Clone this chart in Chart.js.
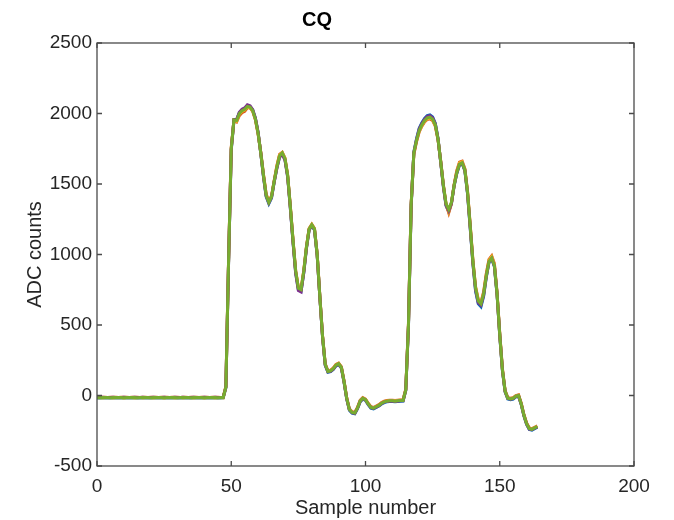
<!DOCTYPE html>
<html>
<head>
<meta charset="utf-8">
<script src="https://cdn.jsdelivr.net/npm/chart.js@4.4.1/dist/chart.umd.min.js"></script>
<style>
  html, body { margin: 0; padding: 0; background: #fff; }
  canvas { display: block; }
</style>
</head>
<body>
<canvas id="myChart" width="674" height="520"></canvas>
<script>
// valeurs (un point par echantillon, 0..164)
let seriesBlue = [
  -17,-18,-16,-17,-18,-17,-16,-17,-18,-17,-16,-17,-18,-17,-16,
  -17,-18,-16,-17,-18,-17,-16,-17,-18,-17,-16,-17,-18,-17,-16,
  -17,-18,-16,-17,-18,-17,-16,-17,-18,-17,-16,-17,-18,-17,-16,
  -17,-18,-16,
  55,940,1740,1950,1955,2005,2025,2035,2055,2050,2025,1965,
  1865,1715,1550,1410,1360,1400,1515,1615,1695,1715,1675,1555,1330,1090,870,
  750,740,870,1045,1175,1205,1175,995,695,415,215,165,170,185,210,
  220,195,95,-25,-105,-125,-130,-95,-45,-25,-35,-65,-90,-95,-85,
  -75,-60,-50,-45,-42,-42,-44,-42,-40,-39,35,490,1340,1725,1820,
  1895,1935,1965,1985,1990,1975,1930,1825,1655,1480,1345,1305,1360,1485,1575,
  1635,1645,1595,1430,1185,935,740,650,630,705,840,945,970,915,715,
  425,175,25,-25,-30,-25,-10,-5,-65,-145,-205,-240,-245,-235,-225
];
let seriesOrange = [
  -13,-14,-12,-13,-14,-13,-12,-13,-14,-13,-12,-13,-14,-13,-12,
  -13,-14,-12,-13,-14,-13,-12,-13,-14,-13,-12,-13,-14,-13,-12,
  -13,-14,-12,-13,-14,-13,-12,-13,-14,-13,-12,-13,-14,-13,-12,
  -13,-14,-12,
  65,960,1760,1950,1940,1985,2005,2015,2040,2040,2015,1955,
  1855,1725,1570,1430,1375,1415,1525,1630,1710,1725,1685,1565,1345,1105,885,
  765,755,885,1055,1185,1215,1185,1005,705,425,225,175,180,195,220,
  230,205,105,-15,-95,-115,-120,-85,-35,-15,-25,-55,-80,-85,-75,
  -65,-50,-40,-35,-33,-33,-35,-33,-31,-30,45,510,1355,1710,1800,
  1870,1910,1940,1958,1962,1950,1910,1815,1665,1495,1355,1295,1360,1495,1595,
  1655,1662,1610,1450,1210,960,770,680,660,735,865,965,990,935,730,
  440,190,35,-15,-20,-15,0,5,-55,-135,-195,-230,-235,-225,-215
];
let seriesYellow = [
  -16,-15,-17,-16,-15,-16,-17,-16,-15,-16,-17,-16,-15,-16,-17,
  -16,-15,-17,-16,-15,-16,-17,-16,-15,-16,-17,-16,-15,-16,-17,
  -16,-15,-17,-16,-15,-16,-17,-16,-15,-16,-17,-16,-15,-16,-17,
  -16,-15,-17,
  62,955,1755,1952,1945,1995,2015,2025,2045,2042,2018,1958,
  1858,1722,1565,1425,1372,1412,1522,1625,1705,1722,1682,1562,1342,1102,882,
  762,752,882,1052,1182,1212,1182,1002,702,422,222,172,177,192,217,
  227,202,102,-18,-98,-118,-123,-88,-38,-18,-28,-58,-83,-88,-78,
  -68,-53,-43,-38,-36,-36,-38,-36,-34,-33,42,505,1352,1715,1805,
  1875,1915,1945,1962,1968,1955,1915,1818,1662,1492,1358,1302,1365,1492,1590,
  1650,1658,1605,1445,1205,955,765,675,655,728,860,960,985,930,725,
  435,185,32,-18,-22,-18,-2,2,-58,-138,-198,-232,-238,-228,-218
];
let seriesPurple = [
  -14,-15,-13,-14,-15,-14,-13,-14,-15,-14,-13,-14,-15,-14,-13,
  -14,-15,-13,-14,-15,-14,-13,-14,-15,-14,-13,-14,-15,-14,-13,
  -14,-15,-13,-14,-15,-14,-13,-14,-15,-14,-13,-14,-15,-14,-13,
  -14,-15,-13,
  58,945,1745,1958,1958,2008,2030,2040,2062,2055,2028,1968,
  1868,1718,1555,1415,1365,1405,1515,1612,1690,1708,1670,1550,1330,1088,865,
  745,735,868,1042,1176,1206,1176,996,696,416,216,168,172,186,212,
  222,198,98,-22,-102,-122,-127,-92,-42,-22,-32,-62,-87,-92,-82,
  -72,-57,-47,-42,-40,-40,-42,-40,-38,-37,38,495,1345,1722,1815,
  1890,1930,1960,1980,1985,1970,1928,1822,1658,1485,1350,1310,1362,1488,1578,
  1638,1648,1598,1435,1190,940,748,658,640,712,845,948,972,918,718,
  428,178,28,-22,-27,-22,-7,-2,-62,-142,-202,-238,-242,-232,-222
];
let seriesGreen = [
  -15,-16,-15,-14,-15,-16,-15,-15,-14,-15,-16,-15,-15,-14,-15,
  -16,-15,-15,-14,-15,-16,-15,-15,-14,-15,-16,-15,-15,-14,-15,
  -16,-15,-15,-14,-15,-16,-15,-15,-14,-15,-16,-15,-15,-14,-15,
  -16,-15,-14,
  60,950,1750,1955,1950,2000,2020,2030,2050,2045,2020,1960,
  1860,1720,1560,1420,1370,1410,1520,1620,1700,1720,1680,1560,1340,1100,880,
  760,750,880,1050,1180,1210,1180,1000,700,420,220,170,175,190,215,
  225,200,100,-20,-100,-120,-125,-90,-40,-20,-30,-60,-85,-90,-80,
  -70,-55,-45,-40,-38,-38,-40,-38,-36,-35,40,500,1350,1720,1810,
  1880,1920,1950,1970,1975,1960,1920,1820,1660,1490,1360,1320,1370,1490,1580,
  1640,1650,1600,1440,1200,950,760,670,650,720,850,950,975,920,720,
  430,180,30,-20,-25,-20,-5,0,-60,-140,-200,-235,-240,-230,-220
];
// ordre de trace matlab : bleu d'abord, vert au dessus
let allSeries = [seriesBlue, seriesOrange, seriesYellow, seriesPurple, seriesGreen];
let seriesColors = ["#0072BD", "#D95319", "#EDB120", "#7E2F8E", "#77AC30"];
let xTicks = [0, 50, 100, 150, 200];
let yTicks = [-500, 0, 500, 1000, 1500, 2000, 2500];

let fontFamily = "'Liberation Sans', Arial, Helvetica, sans-serif";
let axisColor = "#262626";

// cadre + petites graduations vers l'interieur (style matlab)
const boxPlugin = {
  id: "boxPlugin",
  afterDraw(chart) {
    const ctx = chart.ctx;
    const a = chart.chartArea;
    const sx = chart.scales.x;
    const sy = chart.scales.y;
    const tick = 5;
    ctx.save();
    ctx.strokeStyle = "#4a4a4a";
    ctx.lineWidth = 1.3;
    ctx.strokeRect(a.left, a.top, a.right - a.left, a.bottom - a.top);
    ctx.beginPath();
    xTicks.forEach(v => {
      const px = sx.getPixelForValue(v);
      ctx.moveTo(px, a.bottom); ctx.lineTo(px, a.bottom - tick);
      ctx.moveTo(px, a.top); ctx.lineTo(px, a.top + tick);
    });
    yTicks.forEach(v => {
      const py = sy.getPixelForValue(v);
      ctx.moveTo(a.left, py); ctx.lineTo(a.left + tick, py);
      ctx.moveTo(a.right, py); ctx.lineTo(a.right - tick, py);
    });
    ctx.stroke();
    ctx.restore();
  }
};

const ctx = document.getElementById("myChart");
let varChart = new Chart(ctx, {
  type: "line",
  data: {
    datasets: allSeries.map((arr, k) => ({
      data: arr.map((v, i) => ({ x: i, y: v })),
      borderColor: seriesColors[k],
      backgroundColor: seriesColors[k],
      borderWidth: 3,
      pointRadius: 0,
      tension: 0,
      fill: false,
      order: allSeries.length - k
    }))
  },
  options: {
    responsive: false,
    animation: false,
    layout: { padding: { left: 0, right: 40, top: 0, bottom: 0 } },
    plugins: {
      legend: { display: false },
      tooltip: { enabled: false },
      title: {
        display: true,
        text: "CQ",
        color: "#000",
        font: { family: fontFamily, size: 20, weight: "bold" },
        padding: { top: 8, bottom: 11 }
      }
    },
    scales: {
      x: {
        type: "linear",
        min: 0,
        max: 200,
        afterBuildTicks: s => { s.ticks = xTicks.map(v => ({ value: v })); },
        afterFit: s => { s.height = 54; },
        grid: { display: false, drawTicks: false },
        border: { display: false },
        ticks: {
          color: axisColor,
          font: { family: fontFamily, size: 19 },
          padding: 9,
          maxRotation: 0,
          callback: v => String(v)
        },
        title: {
          display: true,
          text: "Sample number",
          color: axisColor,
          font: { family: fontFamily, size: 20 },
          padding: { top: 0, bottom: 0 }
        }
      },
      y: {
        type: "linear",
        min: -500,
        max: 2500,
        afterBuildTicks: s => { s.ticks = yTicks.map(v => ({ value: v })); },
        afterFit: s => { s.width = 97; },
        grid: { display: false, drawTicks: false },
        border: { display: false },
        ticks: {
          color: axisColor,
          font: { family: fontFamily, size: 19 },
          padding: 5,
          callback: v => String(v)
        },
        title: {
          display: true,
          text: "ADC counts",
          color: axisColor,
          font: { family: fontFamily, size: 20 },
          padding: { top: 23, bottom: 0 }
        }
      }
    }
  },
  plugins: [boxPlugin]
});
</script>
</body>
</html>
